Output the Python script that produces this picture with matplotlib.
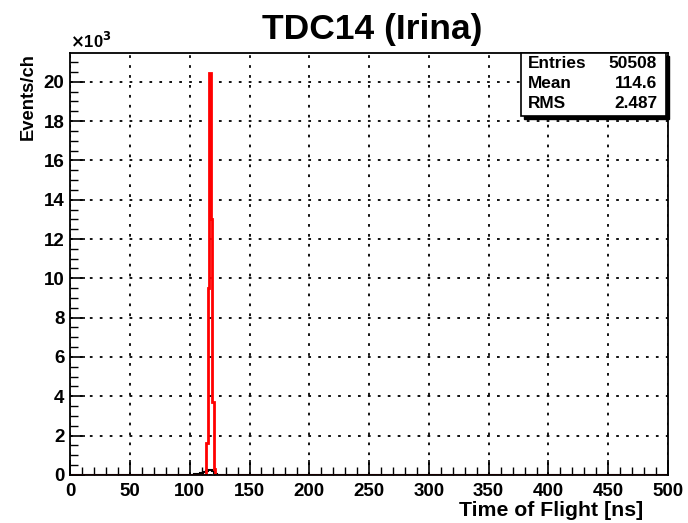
import numpy as np
import matplotlib
matplotlib.use("Agg")
import matplotlib.pyplot as plt
from matplotlib.ticker import MultipleLocator, FuncFormatter

# -----------------------------
# Data (400 channels of 1.25 ns over 0-500 ns)
# -----------------------------
n_bins = 400
red_bins = [91, 92, 93, 94, 95, 96]
red_counts = [1600, 9500, 20450, 13000, 3700, 300]

black_bins = list(range(83, 98))
black_counts = [20, 30, 50, 70, 90, 110, 140, 170, 200, 230, 250, 240, 190, 120, 40]

stats = [("Entries", "50508"), ("Mean", "114.6"), ("RMS", "2.487")]

edges = np.linspace(0, 500, n_bins + 1)
red_h = np.zeros(n_bins)
red_h[red_bins] = red_counts
black_h = np.zeros(n_bins)
black_h[black_bins] = black_counts

plt.rcParams["font.family"] = ["Liberation Sans", "DejaVu Sans"]
plt.rcParams["font.weight"] = "bold"

fig = plt.figure(figsize=(6.88, 5.23), dpi=100)
ax = fig.add_axes([0.102, 0.092, 0.869, 0.807])

ax.stairs(black_h, edges, color="black", lw=1.5)
ax.stairs(red_h, edges, color="red", lw=2)

ax.set_xlim(0, 500)
ax.set_ylim(0, max(red_counts) * 1.05)

ax.xaxis.set_major_locator(MultipleLocator(50))
ax.xaxis.set_minor_locator(MultipleLocator(10))
ax.yaxis.set_major_locator(MultipleLocator(2000))
ax.yaxis.set_minor_locator(MultipleLocator(500))
ax.yaxis.set_major_formatter(FuncFormatter(lambda v, p: f"{v / 1000:g}"))

ax.tick_params(which="major", direction="in", length=11, width=1.2, labelsize=13.5, pad=4)
ax.tick_params(which="minor", direction="in", length=6, width=1.0)
ax.tick_params(axis="x", pad=6)
for lab in ax.get_xticklabels() + ax.get_yticklabels():
    lab.set_fontweight("bold")

ax.grid(True, which="major", color="black", linestyle=(0, (1.5, 4)), lw=1.3)
ax.set_axisbelow(True)
for s in ax.spines.values():
    s.set_linewidth(1.3)

ax.text(0.0, 1.005, r"$\times$10$^{3}$", transform=ax.transAxes,
        fontsize=12, fontweight="bold", ha="left", va="bottom")

# axis titles (ROOT style: right / top aligned)
fig.text(643 / 688, 1 - 510 / 523, "Time of Flight [ns]", fontsize=15.3, fontweight="bold",
         ha="right", va="center")
fig.text(28 / 688, 1 - 53 / 523, "Events/ch", fontsize=13.2, fontweight="bold",
         ha="center", va="top", rotation=90)

fig.text(372 / 688, 1 - 30 / 523, "TDC14 (Irina)", fontsize=25.5, fontweight="bold",
         ha="center", va="center")

# stats box
bx0, by0, bw, bh = 521 / 688, 1 - 116 / 523, 145 / 688, 63 / 523
fig.patches.append(plt.Rectangle((bx0 + 0.004, by0 - 0.005), bw, bh, transform=fig.transFigure,
                                 facecolor="black", edgecolor="black", zorder=5))
fig.patches.append(plt.Rectangle((bx0, by0), bw, bh, transform=fig.transFigure,
                                 facecolor="white", edgecolor="black", lw=1.2, zorder=6))
for i, (k, v) in enumerate(stats):
    yy = 1 - (64 + i * 19.5) / 523
    fig.text(bx0 + 0.010, yy, k, fontsize=12.4, fontweight="bold", ha="left", va="center", zorder=7)
    fig.text(bx0 + bw - 0.013, yy, v, fontsize=12.4, fontweight="bold", ha="right", va="center", zorder=7)

fig.savefig("out.png", dpi=100)
